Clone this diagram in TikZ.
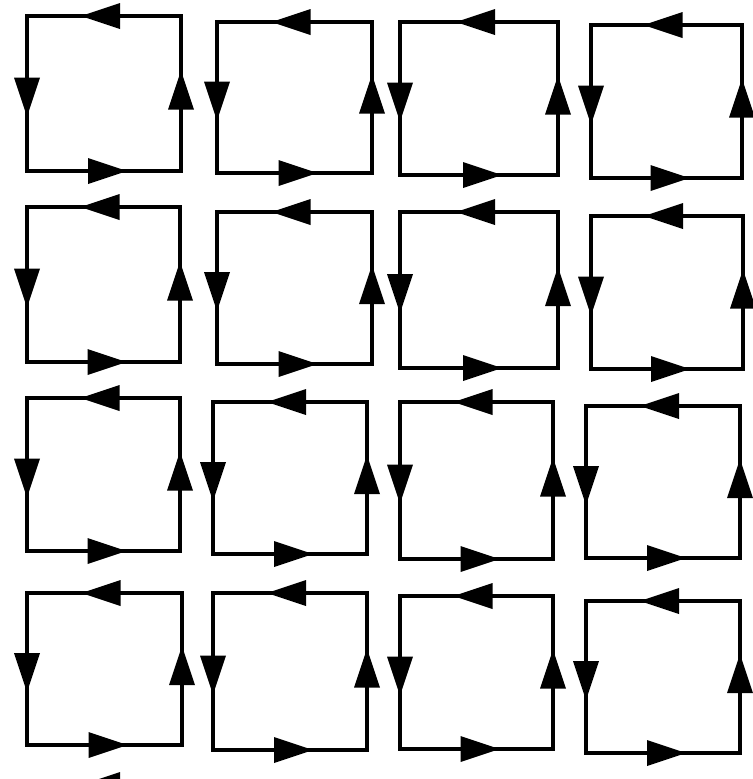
\documentclass[tikz,border=0pt]{standalone}
\begin{document}
\begin{tikzpicture}[x=0.02cm, y=-0.02cm,
    cell/.style={draw, line width=2pt},
    head/.style={fill=black}]
    \useasboundingbox (0,0) rectangle (753,779);

    % left/top/right/bottom of each loop, row by row
    \foreach \l/\t/\r/\b in {27/16/181/171, 217/22/372/173, 400/22/558/175, 591/25/742/178,
        27/207/180/362, 217/212/372/364, 400/212/558/368, 591/216/743/369,
        27/398/180/551, 213/402/367/554, 400/402/553/559, 586/406/740/558,
        27/593/182/745, 213/593/367/750, 400/596/553/749, 586/601/740/753}
    {
        \pgfmathsetmacro{\mx}{(\l+\r)/2}
        \pgfmathsetmacro{\my}{(\t+\b)/2}
        \draw[cell] (\l,\t) rectangle (\r,\b);
        \fill[head] (\mx-23,\t) -- (\mx+16,\t-13) -- (\mx+16,\t+13) -- cycle;
        \fill[head] (\l,\my+23) -- (\l-13,\my-16) -- (\l+13,\my-16) -- cycle;
        \fill[head] (\mx+23,\b) -- (\mx-16,\b-13) -- (\mx-16,\b+13) -- cycle;
        \fill[head] (\r,\my-23) -- (\r-13,\my+16) -- (\r+13,\my+16) -- cycle;
    }

    % cut-off head below the last row
    \fill[head] (81,785) -- (120,772) -- (120,798) -- cycle;
\end{tikzpicture}
\end{document}
